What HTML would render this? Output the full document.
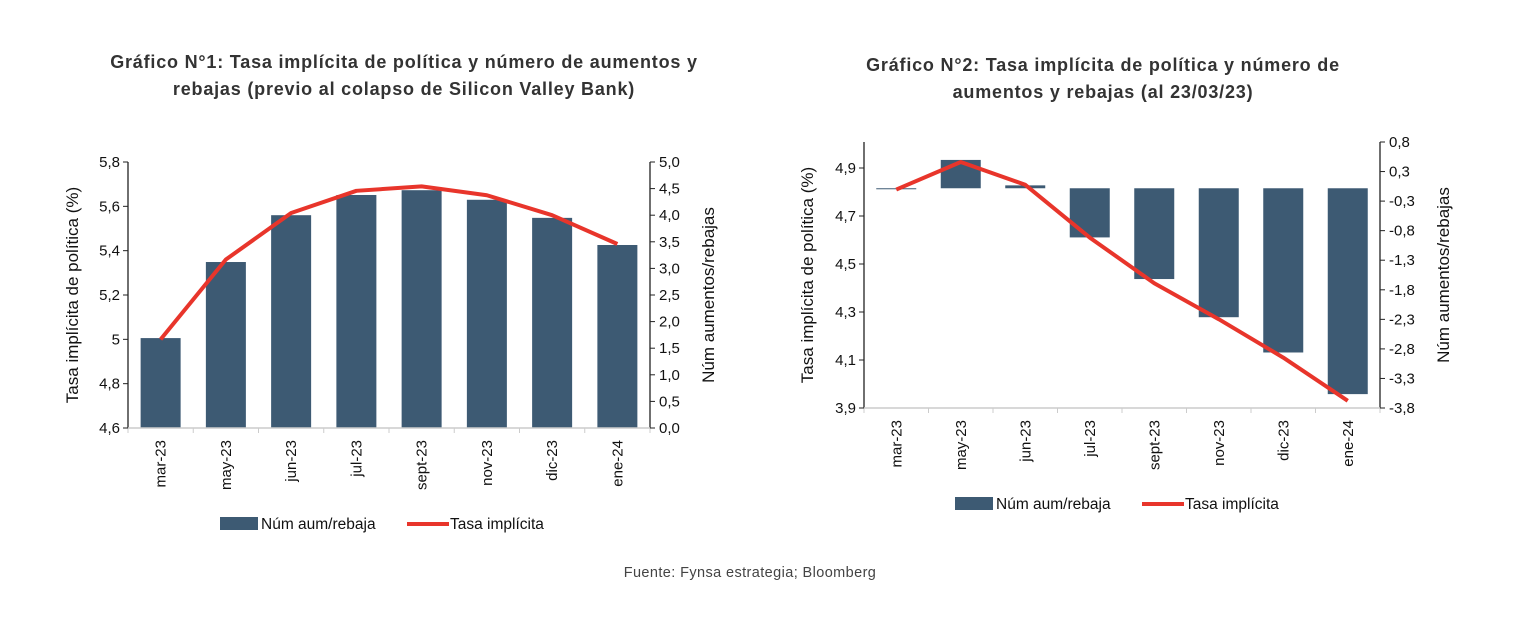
<!DOCTYPE html>
<html><head><meta charset="utf-8"><style>
body{margin:0;background:#fff;width:1516px;height:626px;overflow:hidden;font-family:"Liberation Sans",sans-serif}
svg text{font-family:"Liberation Sans",sans-serif}
</style></head><body>
<svg id="s" width="1516" height="626">
<text x="404" y="68" text-anchor="middle" font-size="18" letter-spacing="0.8" font-weight="bold" fill="#333">Gráfico N°1: Tasa implícita de política y número de aumentos y</text>
<text x="404" y="95" text-anchor="middle" font-size="18" letter-spacing="0.8" font-weight="bold" fill="#333">rebajas (previo al colapso de Silicon Valley Bank)</text>
<text x="1103" y="71" text-anchor="middle" font-size="18" letter-spacing="0.8" font-weight="bold" fill="#333">Gráfico N°2: Tasa implícita de política y número de</text>
<text x="1103" y="98" text-anchor="middle" font-size="18" letter-spacing="0.8" font-weight="bold" fill="#333">aumentos y rebajas (al 23/03/23)</text>
<text x="750" y="577" text-anchor="middle" font-size="14.5" letter-spacing="0.4" fill="#444">Fuente: Fynsa estrategia; Bloomberg</text>
<g id="c1"></g>
<g id="c2"></g>
</svg>
<script>
const categories=["mar-23","may-23","jun-23","jul-23","sept-23","nov-23","dic-23","ene-24"];
const bars1=[1.69,3.12,4.0,4.38,4.47,4.29,3.95,3.44];
const line1=[5.0,5.36,5.57,5.67,5.69,5.65,5.56,5.43];
const leftTicks1=["4,6","4,8","5","5,2","5,4","5,6","5,8"];
const rightTicks1=["0,0","0,5","1,0","1,5","2,0","2,5","3,0","3,5","4,0","4,5","5,0"];
const bars2=[-0.01,0.49,0.05,-0.85,-1.57,-2.23,-2.84,-3.56];
const line2=[4.81,4.925,4.83,4.61,4.42,4.27,4.11,3.93];
const leftTicks2=["3,9","4,1","4,3","4,5","4,7","4,9"];
const rightTicks2=["-3,8","-3,3","-2,8","-2,3","-1,8","-1,3","-0,8","-0,3","0,3","0,8"];
const NS="http://www.w3.org/2000/svg";
function mk(p,t,a,txt){const e=document.createElementNS(NS,t);for(const k in a)e.setAttribute(k,a[k]);if(txt!==undefined)e.textContent=txt;p.appendChild(e);return e;}
function draw(g,o){
 const x0=o.x0,x1=o.x1,top=o.top,bot=o.bot,n=categories.length,sw=(x1-x0)/n;
 const yL=v=>bot-(v-o.lmin)/(o.lmax-o.lmin)*(bot-top);
 const yR=v=>bot-(v-o.rmin)/(o.rmax-o.rmin)*(bot-top);
 const cx=i=>x0+sw*(i+0.5);
 o.bars.forEach((v,i)=>{const y0=yR(0),y=yR(v);
  const r=mk(g,'rect',{x:cx(i)-20,y:Math.min(y0,y),width:40,height:Math.max(1,Math.abs(y-y0)),fill:'#3d5a73'});
  
  });
 let d='';o.line.forEach((v,i)=>{d+=(i?'L':'M')+cx(i)+' '+yL(v);});
 const p=mk(g,'path',{d:d,fill:'none',stroke:'#e8352b','stroke-width':4,'stroke-linejoin':'round'});
 
 
 mk(g,'line',{x1:x0,y1:top,x2:x0,y2:bot,stroke:'#222','stroke-width':1.3});
 mk(g,'line',{x1:x1,y1:top,x2:x1,y2:bot,stroke:'#222','stroke-width':1.3});
 mk(g,'line',{x1:x0,y1:bot,x2:x1,y2:bot,stroke:'#ccc','stroke-width':1.5});
 for(let i=0;i<=n;i++)mk(g,'line',{x1:x0+sw*i,y1:bot,x2:x0+sw*i,y2:bot+5,stroke:'#ccc'});
 o.lt.forEach((t,i)=>{const y=yL(o.lv[i]);mk(g,'line',{x1:x0-5,y1:y,x2:x0,y2:y,stroke:'#222'});
  const e=mk(g,'text',{x:x0-8,y:y+5,'text-anchor':'end','font-size':15,fill:'#111'},t);
  });
 o.rt.forEach((t,i)=>{const y=yR(o.rv[i]);mk(g,'line',{x1:x1,y1:y,x2:x1+5,y2:y,stroke:'#222'});
  const e=mk(g,'text',{x:x1+9,y:y+5,'font-size':15,fill:'#111'},t);
  });
 categories.forEach((c,i)=>{const e=mk(g,'text',{transform:`translate(${cx(i)+5},${bot+12}) rotate(-90)`,'text-anchor':'end','font-size':15,fill:'#111'},c);
  });
 const t1=mk(g,'text',{transform:`translate(${o.ltx},${(top+bot)/2}) rotate(-90)`,'text-anchor':'middle','font-size':17,fill:'#111'},'Tasa implícita de política (%)');
 
 const t2=mk(g,'text',{transform:`translate(${o.rtx},${(top+bot)/2}) rotate(-90)`,'text-anchor':'middle','font-size':17,fill:'#111'},'Núm aumentos/rebajas');
 
 const lg=mk(g,'g',{});
 
 mk(lg,'rect',{x:o.lgx,y:o.lgy-7,width:38,height:13,fill:'#3d5a73'});
 mk(lg,'text',{x:o.lgx+41,y:o.lgy+5,'font-size':15.5,fill:'#111'},'Núm aum/rebaja');
 mk(lg,'line',{x1:o.lgx+187,y1:o.lgy,x2:o.lgx+229,y2:o.lgy,stroke:'#e8352b','stroke-width':4});
 mk(lg,'text',{x:o.lgx+230,y:o.lgy+5,'font-size':15.5,fill:'#111'},'Tasa implícita');
}
draw(document.getElementById('c1'),{x0:128,x1:650,top:162,bot:428,lmin:4.6,lmax:5.8,rmin:0,rmax:5,bars:bars1,line:line1,
 lt:leftTicks1,lv:[4.6,4.8,5.0,5.2,5.4,5.6,5.8],rt:rightTicks1,rv:[0,.5,1,1.5,2,2.5,3,3.5,4,4.5,5],ltx:78,rtx:714,lgx:220,lgy:524});
draw(document.getElementById('c2'),{x0:864,x1:1380,top:142,bot:408,lmin:3.9,lmax:5.0083,rmin:-3.8,rmax:0.8,bars:bars2,line:line2,
 lt:leftTicks2,lv:[3.9,4.1,4.3,4.5,4.7,4.9],rt:rightTicks2,rv:[-3.8,-3.289,-2.778,-2.267,-1.756,-1.244,-0.733,-0.222,0.289,0.8],ltx:813,rtx:1449,lgx:955,lgy:504});
</script>
</body></html>
